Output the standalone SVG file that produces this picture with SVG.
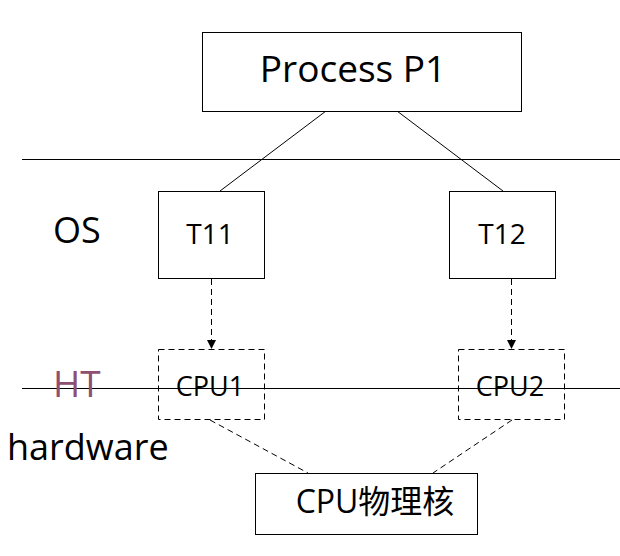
<svg xmlns="http://www.w3.org/2000/svg" width="620" height="556" viewBox="0 0 620 556">
<style>
.box{fill:#fff;stroke:#000;stroke-width:1}
.dbox{fill:none;stroke:#000;stroke-width:1;stroke-dasharray:6,4}
.t{font-family:"Open Sans","Noto Sans","Noto Sans CJK SC",sans-serif;fill:#000;text-anchor:middle}
.l{font-family:"Open Sans","Noto Sans",sans-serif;fill:#000}
.ln{stroke:#000;stroke-width:1;fill:none}
.dl{stroke:#000;stroke-width:1;fill:none;stroke-dasharray:6,4}
</style>
<defs>
<marker id="ah" viewBox="0 0 10 10" refX="10" refY="5" markerWidth="9" markerHeight="9" markerUnits="userSpaceOnUse" orient="auto">
<path d="M0,0 L10,5 L0,10 z" fill="#000"/>
</marker>
</defs>
<g id="layers">
<line class="ln" x1="22" y1="159.5" x2="620" y2="159.5"/>
<line class="ln" x1="22" y1="388.5" x2="620" y2="388.5"/>
<text class="l" x="53" y="243" font-size="36">OS</text>
<text class="l" x="53" y="397" font-size="37" style="fill:#8E4F72">HT</text>
<text class="l" x="7" y="460" font-size="36">hardware</text>
</g>
<g id="connectors">
<line class="ln" x1="326" y1="111" x2="220" y2="191"/>
<line class="ln" x1="397" y1="111" x2="503" y2="191"/>
<line class="dl" x1="211.5" y1="279" x2="211.5" y2="349" marker-end="url(#ah)"/>
<line class="dl" x1="511.5" y1="279" x2="511.5" y2="349" marker-end="url(#ah)"/>
<line class="dl" x1="210" y1="420" x2="308" y2="473"/>
<line class="dl" x1="512" y1="420" x2="433" y2="473"/>
</g>
<g id="process">
<rect class="box" x="202.5" y="32.5" width="319" height="79"/>
<text class="t" x="353" y="82" font-size="37">Process P1</text>
</g>
<g id="t11">
<rect class="box" x="158.5" y="191.5" width="106" height="87"/>
<text class="t" x="210" y="244" font-size="28">T11</text>
</g>
<g id="t12">
<rect class="box" x="449.5" y="191.5" width="106" height="87"/>
<text class="t" x="502" y="244" font-size="28">T12</text>
</g>
<g id="cpu1">
<rect class="dbox" x="158.5" y="349.5" width="106" height="70"/>
<text class="t" x="210" y="396" font-size="27">CPU1</text>
</g>
<g id="cpu2">
<rect class="dbox" x="458.5" y="349.5" width="106" height="70"/>
<text class="t" x="510" y="396" font-size="27">CPU2</text>
</g>
<g id="core">
<rect class="box" x="255.5" y="473.5" width="222" height="61"/>
<text class="t" x="375" y="513" font-size="32">CPU物理核</text>
</g>
</svg>
